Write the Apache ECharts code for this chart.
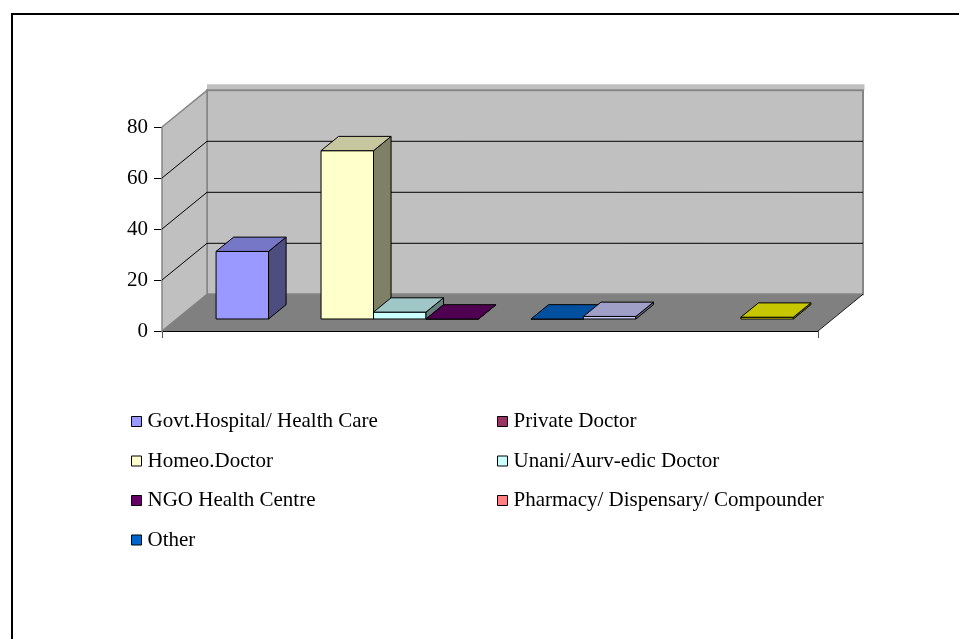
<!DOCTYPE html>
<html><head><meta charset="utf-8">
<script src="https://cdn.jsdelivr.net/npm/echarts@6/dist/echarts.min.js"></script>
<style>html,body{margin:0;padding:0;background:#fff}#c{width:959px;height:639px}</style>
</head><body><div id="c"></div>
<script>
// ---- data ----
const seriesNames = ['Govt.Hospital/ Health Care', 'Private Doctor', 'Homeo.Doctor', 'Unani/Aurv-edic Doctor',
  'NGO Health Centre', 'Pharmacy/ Dispensary/ Compounder', 'Other', 'Series 8', 'Series 9', 'Series 10', 'Series 11'];
const seriesValues = [26.5, null, 66, 2.7, 0, null, 0, 1.0, null, null, 0.7];
const seriesColors = ['#9999FF', '#993366', '#FFFFCC', '#CCFFFF', '#660066', '#FF8080', '#0066CC',
  '#CCCCFF', '#000080', '#FF00FF', '#FFFF00'];
const legendLeftColumn = ['Govt.Hospital/ Health Care', 'Homeo.Doctor', 'NGO Health Centre', 'Other'];
const legendRightColumn = ['Private Doctor', 'Unani/Aurv-edic Doctor', 'Pharmacy/ Dispensary/ Compounder'];
const yTicks = [0, 20, 40, 60, 80];

// ---- 3D look (styling constants) ----
const DX = 45, DY = -36.7;          // full-depth oblique offset
const F0 = 0.327, F1 = 0.717;       // bar depth span (fraction of floor depth)
const GAP = 1.5;                    // gap width (in bar widths) for the single category
const XMAX = seriesNames.length + GAP;
const FONT = '"Liberation Serif","Times New Roman",serif';

function shade(hex, k) {
  const n = parseInt(hex.slice(1), 16);
  const r = Math.round(((n >> 16) & 255) * k), g = Math.round(((n >> 8) & 255) * k), b = Math.round((n & 255) * k);
  return 'rgb(' + r + ',' + g + ',' + b + ')';
}

function barRenderer(color) {
  return function (params, api) {
    const cx = api.value(0), v = api.value(1);
    const pL = api.coord([cx - 0.5, 0]), pR = api.coord([cx + 0.5, 0]), pT = api.coord([cx - 0.5, v]);
    const xl = pL[0] + F0 * DX, xr = pR[0] + F0 * DX;
    const yb = pL[1] + F0 * DY, yt = pT[1] + F0 * DY;
    const ddx = (F1 - F0) * DX, ddy = (F1 - F0) * DY;
    const st = { stroke: '#000', lineWidth: 1, lineJoin: 'round' };
    return {
      type: 'group',
      children: [
        { type: 'polygon', shape: { points: [[xl, yb], [xr, yb], [xr, yt], [xl, yt]] },
          style: Object.assign({ fill: color }, st) },
        { type: 'polygon', shape: { points: [[xr, yb], [xr + ddx, yb + ddy], [xr + ddx, yt + ddy], [xr, yt]] },
          style: Object.assign({ fill: shade(color, 0.5) }, st) },
        { type: 'polygon', shape: { points: [[xl, yt], [xr, yt], [xr + ddx, yt + ddy], [xl + ddx, yt + ddy]] },
          style: Object.assign({ fill: shade(color, 0.78) }, st) }
      ]
    };
  };
}

function wallRenderer(params, api) {
  const top = yTicks[yTicks.length - 1];
  const fl = api.coord([0, 0]), fr = api.coord([XMAX, 0]), tl = api.coord([0, top]), tr = api.coord([XMAX, top]);
  const ch = [];
  // band above back wall
  ch.push({ type: 'rect', shape: { x: tl[0] + DX, y: tl[1] + DY - 6, width: tr[0] - tl[0] + 1.5, height: 6 },
    style: { fill: '#C0C0C0' } });
  // back wall
  ch.push({ type: 'rect', shape: { x: tl[0] + DX, y: tl[1] + DY, width: tr[0] - tl[0], height: fl[1] - tl[1] },
    style: { fill: '#C0C0C0', stroke: '#868686', lineWidth: 2 } });
  // side wall
  ch.push({ type: 'polygon', shape: { points: [[tl[0], tl[1]], [tl[0] + DX, tl[1] + DY], [fl[0] + DX, fl[1] + DY], [fl[0], fl[1]]] },
    style: { fill: '#C0C0C0', stroke: '#868686', lineWidth: 1.5 } });
  // floor
  ch.push({ type: 'polygon', shape: { points: [[fl[0], fl[1]], [fl[0] + DX, fl[1] + DY], [fr[0] + DX, fr[1] + DY], [fr[0], fr[1]]] },
    style: { fill: '#808080' } });
  ch.push({ type: 'line', shape: { x1: fr[0], y1: fr[1], x2: fr[0] + DX, y2: fr[1] + DY },
    style: { stroke: '#202020', lineWidth: 1 } });
  // gridlines
  yTicks.slice(1, -1).forEach(function (t) {
    const p = api.coord([0, t]), q = api.coord([XMAX, t]);
    ch.push({ type: 'line', shape: { x1: p[0], y1: p[1], x2: p[0] + DX, y2: p[1] + DY }, style: { stroke: '#000', lineWidth: 1 } });
    ch.push({ type: 'line', shape: { x1: p[0] + DX, y1: p[1] + DY, x2: q[0] + DX, y2: q[1] + DY }, style: { stroke: '#000', lineWidth: 1 } });
  });
  return { type: 'group', children: ch };
}

const series = [{
  type: 'custom', name: '__walls', silent: true, z: 1,
  data: [[0, 0]], renderItem: wallRenderer, clip: false
}];
seriesNames.forEach(function (name, i) {
  const v = seriesValues[i];
  series.push({
    type: 'custom', name: name, z: 3, clip: false,
    itemStyle: { color: seriesColors[i], borderColor: '#000', borderWidth: 1 },
    data: v === null ? [] : [[GAP / 2 + i + 0.5, v]],
    renderItem: barRenderer(seriesColors[i])
  });
});

const legendBase = {
  orient: 'vertical', icon: 'rect', itemWidth: 10, itemHeight: 10, itemGap: 18.5, padding: 0,
  itemStyle: { borderColor: '#000', borderWidth: 1 },
  textStyle: { fontFamily: FONT, fontSize: 21, lineHeight: 20, color: '#000', padding: [0, 0, 0, 1] },
  selectedMode: false
};

const chart = echarts.init(document.getElementById('c'), null, { renderer: 'canvas' });
chart.setOption({
  animation: false,
  backgroundColor: '#fff',
  grid: { left: 162, right: 141, top: 127, bottom: 308 },
  xAxis: {
    type: 'value', min: 0, max: XMAX, interval: XMAX,
    axisLine: { show: true, lineStyle: { color: '#000', width: 1 } },
    axisTick: { show: true, length: 7, lineStyle: { color: '#555' } },
    axisLabel: { show: false }, splitLine: { show: false }
  },
  yAxis: {
    type: 'value', min: yTicks[0], max: yTicks[yTicks.length - 1], interval: yTicks[1] - yTicks[0],
    axisLine: { show: true, lineStyle: { color: '#000', width: 1 } },
    axisTick: { show: true, length: 8, inside: false, lineStyle: { color: '#000' } },
    axisLabel: { margin: 14, fontFamily: FONT, fontSize: 21, color: '#000' },
    splitLine: { show: false }
  },
  legend: [
    Object.assign({ left: 131, top: 411, data: legendLeftColumn }, legendBase),
    Object.assign({ left: 497, top: 411, data: legendRightColumn }, legendBase)
  ],
  graphic: [{
    type: 'rect', silent: true, z: 100,
    shape: { x: 12, y: 14, width: 1000, height: 700 },
    style: { fill: null, stroke: '#000', lineWidth: 2 }
  }],
  series: series
});
</script>
</body></html>
